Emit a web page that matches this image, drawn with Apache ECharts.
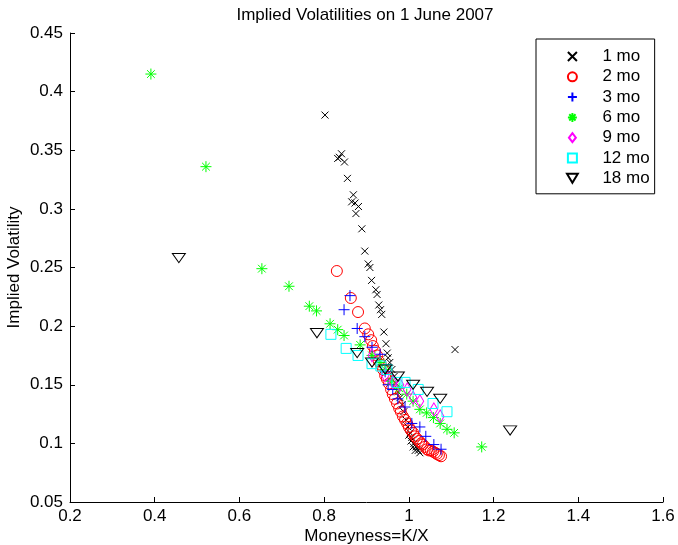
<!DOCTYPE html>
<html>
<head>
<meta charset="utf-8">
<script src="https://cdn.jsdelivr.net/npm/echarts@6/dist/echarts.min.js"></script>
<style>html,body{margin:0;padding:0;background:#fff}#c{width:678px;height:545px}</style>
</head>
<body>
<div id="c"></div>
<script>
const xTicks = [0.2, 0.4, 0.6, 0.8, 1, 1.2, 1.4, 1.6];
const yTicks = [0.05, 0.1, 0.15, 0.2, 0.25, 0.3, 0.35, 0.4, 0.45];
const seriesNames = ['1 mo', '2 mo', '3 mo', '6 mo', '9 mo', '12 mo', '18 mo'];

const mo1 = [[0.802,0.380],[0.832,0.343],[0.836,0.344],[0.841,0.347],[0.848,0.340],[0.855,0.326],[0.869,0.312],[0.865,0.306],[0.873,0.305],[0.881,0.302],[0.875,0.296],[0.889,0.283],[0.896,0.264],[0.904,0.253],[0.908,0.250],[0.912,0.239],[0.922,0.231],[0.925,0.227],[0.929,0.218],[0.933,0.214],[0.936,0.210],[0.941,0.195],[0.946,0.185],[0.949,0.177],[0.951,0.173],[0.955,0.169],[0.960,0.163],[0.965,0.157],[0.970,0.151],[0.974,0.144],[0.979,0.139],[0.984,0.133],[0.988,0.127],[0.993,0.120],[0.998,0.114],[1.000,0.107],[1.003,0.109],[1.005,0.102],[1.007,0.105],[1.010,0.097],[1.012,0.100],[1.015,0.094],[1.017,0.097],[1.022,0.094],[1.026,0.092],[1.109,0.180]];
const mo2 = [[0.830,0.247],[0.863,0.224],[0.880,0.212],[0.896,0.198],[0.904,0.193],[0.911,0.188],[0.915,0.183],[0.920,0.179],[0.925,0.175],[0.929,0.170],[0.934,0.167],[0.939,0.163],[0.944,0.158],[0.948,0.155],[0.953,0.151],[0.958,0.146],[0.962,0.142],[0.967,0.138],[0.972,0.134],[0.977,0.130],[0.981,0.127],[0.986,0.123],[0.991,0.120],[0.996,0.117],[1.000,0.114],[1.005,0.111],[1.010,0.109],[1.014,0.106],[1.019,0.104],[1.024,0.102],[1.029,0.100],[1.033,0.099],[1.038,0.097],[1.043,0.095],[1.047,0.094],[1.052,0.094],[1.057,0.093],[1.062,0.092],[1.066,0.091],[1.071,0.090],[1.076,0.089]];
const mo3 = [[0.861,0.226],[0.847,0.214],[0.878,0.198],[0.896,0.191],[0.913,0.182],[0.932,0.176],[0.944,0.161],[0.951,0.150],[0.962,0.146],[0.974,0.138],[0.991,0.131],[1.007,0.117],[1.026,0.114],[1.040,0.106],[1.059,0.099],[1.076,0.095]];
const mo6 = [[0.391,0.415],[0.521,0.336],[0.653,0.249],[0.717,0.234],[0.765,0.217],[0.782,0.213],[0.814,0.202],[0.832,0.197],[0.847,0.192],[0.885,0.184],[0.913,0.175],[0.932,0.169],[0.944,0.163],[0.959,0.153],[0.977,0.147],[0.995,0.142],[1.010,0.136],[1.026,0.129],[1.042,0.126],[1.058,0.122],[1.074,0.117],[1.090,0.112],[1.107,0.109],[1.172,0.097]];
const mo9 = [[0.913,0.175],[0.944,0.158],[0.962,0.152],[0.979,0.150],[0.996,0.146],[1.010,0.139],[1.026,0.136],[1.059,0.129],[1.074,0.123]];
const mo12 = [[0.816,0.193],[0.852,0.181],[0.880,0.175],[0.913,0.168],[0.934,0.166],[0.948,0.163],[0.972,0.152],[0.991,0.152],[1.022,0.146],[1.057,0.134],[1.090,0.127]];
const mo18 = [[0.457,0.258],[0.783,0.194],[0.878,0.177],[0.913,0.169],[0.944,0.163],[0.974,0.157],[1.010,0.150],[1.043,0.144],[1.074,0.138],[1.239,0.111]];

const FONT = 'Liberation Sans, Arial, Helvetica, sans-serif';
const fmt = v => String(+(+v).toFixed(2));

function mk(name, data, symbol, size, color) {
  return {
    name: name, type: 'scatter', data: data,
    symbol: symbol, symbolSize: size, symbolKeepAspect: true,
    itemStyle: { color: 'transparent', borderColor: color, borderWidth: 1, opacity: 1 },
    emphasis: { disabled: true }
  };
}

const chart = echarts.init(document.getElementById('c'), null, { renderer: 'canvas' });
chart.setOption({
  animation: false,
  backgroundColor: '#fff',
  textStyle: { fontFamily: FONT },
  grid: { left: 70, right: 15, top: 33, bottom: 43, containLabel: false, outerBoundsMode: 'none' },
  graphic: [{
    type: 'text', x: 365, y: 15,
    style: { text: 'Implied Volatilities on 1 June 2007', align: 'center', verticalAlign: 'middle',
             font: '17px ' + FONT, fill: '#000' }
  }],
  legend: {
    data: seriesNames, orient: 'vertical', left: 536, top: 39,
    padding: [9, 5, 7, 30], itemGap: 3.3, itemWidth: 50, itemHeight: 9,
    symbolKeepAspect: true,
    borderColor: '#000', borderWidth: 1, backgroundColor: '#fff', borderRadius: 0,
    textStyle: { fontSize: 17, color: '#000', fontFamily: FONT },
    selectedMode: false
  },
  xAxis: {
    type: 'value', min: 0.2, max: 1.6, interval: 0.2,
    name: 'Moneyness=K/X', nameLocation: 'middle', nameGap: 26, nameMoveOverlap: false,
    nameTextStyle: { fontSize: 17, color: '#000', fontFamily: FONT },
    axisLine: { show: true, onZero: false, lineStyle: { color: '#000', width: 1 } },
    axisTick: { show: true, inside: true, length: 5, lineStyle: { color: '#000' } },
    axisLabel: { fontSize: 17, color: '#000', margin: 6, formatter: fmt, fontFamily: FONT },
    splitLine: { show: false }
  },
  yAxis: {
    type: 'value', min: 0.05, max: 0.45, interval: 0.05,
    name: 'Implied Volatility', nameLocation: 'middle', nameGap: 47, nameMoveOverlap: false,
    nameTextStyle: { fontSize: 17, color: '#000', fontFamily: FONT },
    axisLine: { show: true, onZero: false, lineStyle: { color: '#000', width: 1 } },
    axisTick: { show: true, inside: true, length: 5, lineStyle: { color: '#000' } },
    axisLabel: { fontSize: 17, color: '#000', margin: 7, formatter: fmt, fontFamily: FONT },
    splitLine: { show: false }
  },
  series: [
    mk('1 mo', mo1, 'path://M0,0L10,10M10,0L0,10', 7, '#000000'),
    mk('2 mo', mo2, 'circle', 11, '#ff0000'),
    mk('3 mo', mo3, 'path://M5,0L5,10M0,5L10,5', 11, '#0000ff'),
    mk('6 mo', mo6, 'path://M5,0L5,10M0,5L10,5M1.5,1.5L8.5,8.5M8.5,1.5L1.5,8.5', 11, '#00ff00'),
    mk('9 mo', mo9, 'path://M5,0L10,6.5L5,13L0,6.5Z', [10, 13], '#ff00ff'),
    mk('12 mo', mo12, 'path://M0,0L10,0L10,10L0,10Z', 10, '#00ffff'),
    mk('18 mo', mo18, 'path://M0,0L12,0L6,10Z', [13, 11], '#000000')
  ]
});
</script>
</body>
</html>
